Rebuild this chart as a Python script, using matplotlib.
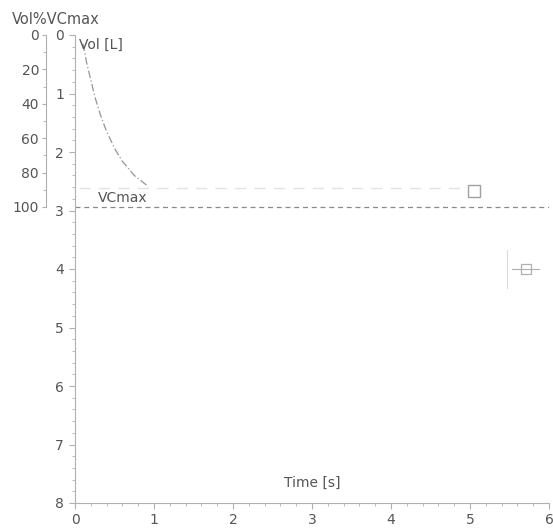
import matplotlib
matplotlib.use("Agg")
import matplotlib.pyplot as plt
from matplotlib.ticker import MultipleLocator, FixedLocator

# Data
curve_t = [0.10, 0.15, 0.215, 0.25, 0.32, 0.40, 0.51, 0.60, 0.75, 0.89, 0.92]
curve_v = [0.15, 0.49, 0.85, 1.05, 1.36, 1.65, 1.96, 2.16, 2.40, 2.55, 2.58]
plateau_t = [0.05, 4.90]
plateau_v = [2.62, 2.62]
marker_t = [5.05]
marker_v = [2.67]
vcmax = 2.94
x_ticks = [0, 1, 2, 3, 4, 5, 6]
vol_ticks = [0, 1, 2, 3, 4, 5, 6, 7, 8]
pct_ticks = [0, 20, 40, 60, 80, 100]
pct_minor = [10, 30, 50, 70, 90]

txt = '#555555'
spine = '#b0b0b0'

fig = plt.figure(figsize=(5.53, 5.28), dpi=100)
ax = fig.add_axes([75/553, 1-503/528, 474/553, (503-35)/528])
ax.set_xlim(0, 6)
ax.set_ylim(8, 0)

for s in ['top', 'right']:
    ax.spines[s].set_visible(False)
for s in ['left', 'bottom']:
    ax.spines[s].set_color(spine)
    ax.spines[s].set_linewidth(0.8)

ax.set_xticks(x_ticks)
ax.set_yticks(vol_ticks)
ax.xaxis.set_minor_locator(MultipleLocator(0.2))
ax.yaxis.set_minor_locator(MultipleLocator(0.2))
ax.tick_params(axis='both', which='major', colors=spine, labelcolor=txt,
               labelsize=10, length=4, width=0.8)
ax.tick_params(axis='y', which='major', pad=4)
ax.tick_params(axis='both', which='minor', colors=spine, length=2, width=0.6)

# secondary percent axis
def v2p(v):
    return v / vcmax * 100
def p2v(p):
    return p * vcmax / 100

sec = ax.secondary_yaxis(-29/474, functions=(v2p, p2v))
sec.set_yticks(pct_ticks)
sec.yaxis.set_minor_locator(FixedLocator(pct_minor))
sec.tick_params(axis='y', which='major', colors=spine, labelcolor=txt,
                labelsize=10, length=3, width=0.8, pad=2)
sec.tick_params(axis='y', which='minor', colors=spine, length=2, width=0.6)
sec.spines['left'].set_color(spine)
sec.spines['left'].set_bounds(0, 100)
sec.spines['left'].set_linewidth(0.8)

# data
ax.plot(curve_t, curve_v, color='#959595', lw=0.9, ls=(0, (6, 2, 1, 2)))
ax.plot(plateau_t, plateau_v, color='#e2e2e2', lw=1.0, ls=(0, (8, 6)))
ax.axhline(vcmax, color='#8a8a8a', lw=0.9, ls=(0, (4, 3)))
ax.plot(marker_t, marker_v, ls='none', marker='s', ms=8, mfc='none',
        mec='#a0a0a0', mew=1.0)

ax.text(0.29, vcmax - 0.03, 'VCmax', color=txt, fontsize=10, va='bottom', ha='left',
        bbox=dict(facecolor='white', edgecolor='none', pad=0.5))
ax.text(0.05, 0.17, 'Vol [L]', color=txt, fontsize=10, va='center', ha='left')
ax.text(3.0, 7.65, 'Time [s]', color=txt, fontsize=10, va='center', ha='center')
fig.text(12/553, 1-20/528, 'Vol%VCmax', color=txt, fontsize=10.5, va='center', ha='left')

# faint legend at right
lax = fig.add_axes([505/553, 1-290/528, 48/553, 42/528])
lax.set_xlim(0, 1)
lax.set_ylim(0, 1)
lax.axis('off')
lax.plot([0.05, 0.05], [0.05, 0.95], color='#dcdcdc', lw=0.8)
lax.plot([0.15, 0.7], [0.5, 0.5], color='#b0b0b0', lw=0.8)
lax.plot([0.43], [0.5], marker='s', ms=7, mfc='none', mec='#b0b0b0', mew=0.9)

fig.savefig('out.png', dpi=100)
